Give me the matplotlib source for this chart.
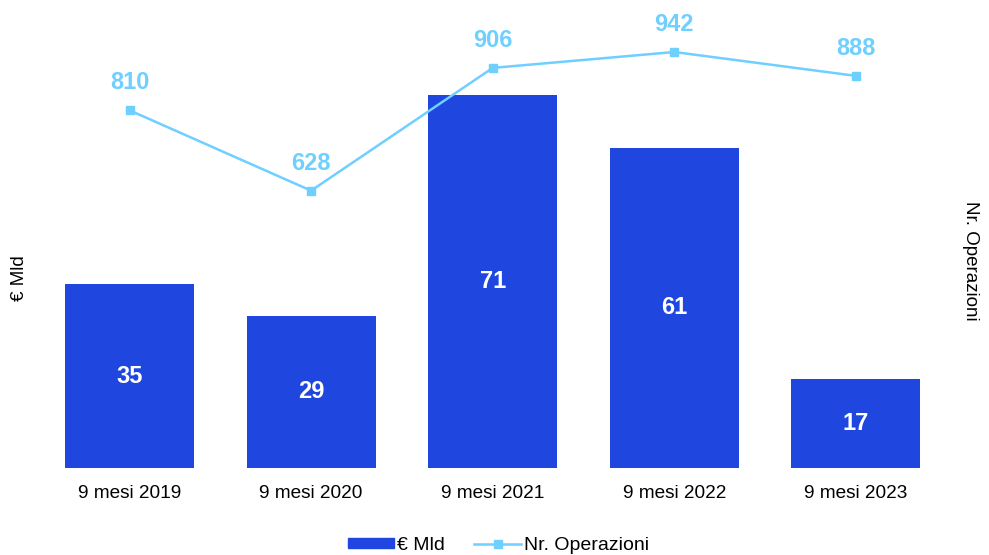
import matplotlib
matplotlib.use('Agg')
import numpy as np
from matplotlib import pyplot as plt
from matplotlib.lines import Line2D
from matplotlib.patches import Patch

plt.rcParams['font.family'] = ['Liberation Sans', 'DejaVu Sans']

periodi = ['9 mesi 2019', '9 mesi 2020', '9 mesi 2021', '9 mesi 2022', '9 mesi 2023']
valore_mld = [35, 29, 71, 61, 17]
nr_operazioni = [810, 628, 906, 942, 888]

col_bar = '#1F47E0'
col_line = '#6FCFFF'

fig = plt.figure(figsize=(9.89, 5.55), dpi=100)
ax = fig.add_axes([38.7 / 989, (555 - 468) / 555, 908 / 989, 448 / 555])
ax2 = ax.twinx()

x = np.arange(len(periodi))
ax.bar(x, valore_mld, width=0.71, color=col_bar, zorder=2)
for xi, v in zip(x, valore_mld):
    ax.text(xi, v / 2, str(v), ha='center', va='center', color='white',
            fontsize=17, fontweight='bold')

ax2.plot(x, nr_operazioni, color=col_line, lw=1.8, marker='s', ms=6, zorder=3)
for xi, v in zip(x, nr_operazioni):
    ax2.annotate(str(v), (xi, v), xytext=(0, 16), textcoords='offset pixels',
                 ha='center', va='bottom', color=col_line, fontsize=17,
                 fontweight='bold')

ax.set_xlim(-0.5, 4.5)
ax.set_ylim(0, 448 / 5.25)
ax2.set_ylim(0, 448 / 0.4416)

for a in (ax, ax2):
    for s in a.spines.values():
        s.set_visible(False)
    a.set_yticks([])
ax.set_xticks(x)
ax.set_xticklabels(periodi, fontsize=13.7)
ax.tick_params(axis='x', length=0, pad=12.5)

fig.text(20 / 989, 1 - 278 / 555, '€ Mld', rotation=90, ha='center', va='center', fontsize=13.5)
fig.text(970 / 989, 1 - 261 / 555, 'Nr. Operazioni', rotation=270, ha='center', va='center', fontsize=13.5)

handles = [Patch(color=col_bar, label='€ Mld'),
           Line2D([0], [0], color=col_line, lw=1.8, marker='s', ms=6, label='Nr. Operazioni')]
fig.legend(handles=handles, loc='center', bbox_to_anchor=(0.504, 1 - 545 / 555), ncol=2,
           frameon=False, fontsize=14, handlelength=2.4, handleheight=0.42,
           handletextpad=0.15, columnspacing=1.5, borderpad=0.2)

fig.savefig('out.png', dpi=100)
